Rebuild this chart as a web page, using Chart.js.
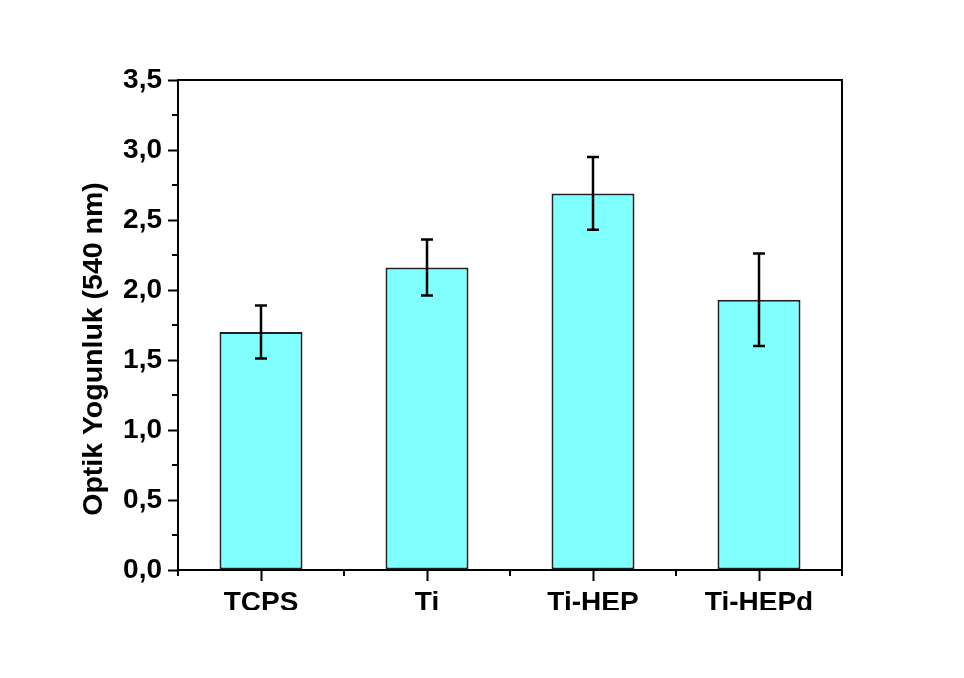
<!DOCTYPE html>
<html>
<head>
<meta charset="utf-8">
<script src="https://cdn.jsdelivr.net/npm/chart.js@4/dist/chart.umd.min.js"></script>
<style>
  html, body { margin: 0; padding: 0; background: #ffffff; }
  #wrap { width: 964px; height: 678px; }
</style>
</head>
<body>
<div id="wrap"><canvas id="c" width="964" height="678"></canvas></div>
<script>
// Optical density at 540 nm per surface (mean and standard deviation)
const categories = ['TCPS', 'Ti', 'Ti-HEP', 'Ti-HEPd'];
const means = [1.70, 2.16, 2.69, 1.93];
const errors = [0.19, 0.20, 0.26, 0.33];
const yTickLabels = ['0,0', '0,5', '1,0', '1,5', '2,0', '2,5', '3,0', '3,5'];
const yAxisTitle = 'Optik Yogunluk (540 nm)';

const FONT = '"Liberation Sans", Arial, sans-serif';

// Frame around the plot area plus minor ticks on both axes
const framePlugin = {
  id: 'frame',
  afterDatasetsDraw(chart) {
    const { ctx, chartArea: a, scales: { x, y } } = chart;
    ctx.save();
    ctx.strokeStyle = '#000';
    ctx.lineWidth = 2;
    ctx.beginPath();
    ctx.moveTo(a.left, a.top);
    ctx.lineTo(a.right, a.top);
    ctx.lineTo(a.right, a.bottom);
    ctx.stroke();

    // minor y ticks halfway between labelled values
    ctx.beginPath();
    for (let i = 0; i < yTickLabels.length - 1; i++) {
      const py = Math.round(y.getPixelForValue(i * 0.5 + 0.25));
      ctx.moveTo(a.left - 6, py);
      ctx.lineTo(a.left, py);
    }
    // minor x ticks at category boundaries
    for (let i = 0; i <= categories.length; i++) {
      const px = Math.round(x.getPixelForValue(i - 0.5));
      ctx.moveTo(px, a.bottom);
      ctx.lineTo(px, a.bottom + 6);
    }
    ctx.stroke();
    ctx.restore();
  }
};

// Rotated y-axis title, set a little below the middle of the axis
const yTitlePlugin = {
  id: 'yTitle',
  afterDraw(chart) {
    const { ctx, chartArea: a } = chart;
    ctx.save();
    ctx.translate(94, (a.top + a.bottom) / 2 + 24);
    ctx.rotate(-Math.PI / 2);
    ctx.font = 'bold 28.5px ' + FONT;
    ctx.fillStyle = '#000';
    ctx.textAlign = 'center';
    ctx.textBaseline = 'middle';
    ctx.fillText(yAxisTitle, 0, 0);
    ctx.restore();
  }
};

// Error bars drawn from the same means and deviations as the bars
const errorBarPlugin = {
  id: 'errorBars',
  afterDatasetsDraw(chart) {
    const { ctx, scales: { y } } = chart;
    const meta = chart.getDatasetMeta(0);
    ctx.save();
    ctx.strokeStyle = '#000';
    ctx.lineWidth = 2.5;
    meta.data.forEach((bar, i) => {
      const cx = bar.x;
      const yTop = y.getPixelForValue(means[i] + errors[i]);
      const yBot = y.getPixelForValue(means[i] - errors[i]);
      const cap = 6;
      ctx.beginPath();
      ctx.moveTo(cx, yTop);
      ctx.lineTo(cx, yBot);
      ctx.moveTo(cx - cap, yTop);
      ctx.lineTo(cx + cap, yTop);
      ctx.moveTo(cx - cap, yBot);
      ctx.lineTo(cx + cap, yBot);
      ctx.stroke();
    });
    ctx.restore();
  }
};

new Chart(document.getElementById('c'), {
  type: 'bar',
  data: {
    labels: categories,
    datasets: [{
      data: means,
      backgroundColor: '#80FFFF',
      borderColor: '#222222',
      borderWidth: 2,
      borderSkipped: false,
      barPercentage: 0.5,
      categoryPercentage: 1.0
    }]
  },
  options: {
    responsive: false,
    animation: false,
    layout: { padding: { left: 0, right: 122, top: 80, bottom: 68 } },
    plugins: {
      legend: { display: false },
      tooltip: { enabled: false }
    },
    scales: {
      x: {
        offset: true,
        grid: {
          offset: false,
          drawOnChartArea: false,
          drawTicks: true,
          tickLength: 11,
          tickWidth: 2,
          tickColor: '#000'
        },
        border: { display: true, color: '#000', width: 2 },
        ticks: {
          color: '#000',
          padding: 5,
          maxRotation: 0,
          font: { family: FONT, size: 28, weight: 'bold' }
        },
        afterFit(scale) { scale.height = 40; }
      },
      y: {
        min: 0,
        max: 3.5,
        grid: {
          drawOnChartArea: false,
          drawTicks: true,
          tickLength: 10,
          tickWidth: 2,
          tickColor: '#000'
        },
        border: { display: true, color: '#000', width: 2 },
        ticks: {
          stepSize: 0.5,
          color: '#000',
          padding: 6,
          font: { family: FONT, size: 28, weight: 'bold' },
          callback: (v, i) => yTickLabels[i]
        },
        afterFit(scale) { scale.width = 178; }
      }
    }
  },
  plugins: [framePlugin, errorBarPlugin, yTitlePlugin]
});
</script>
</body>
</html>
